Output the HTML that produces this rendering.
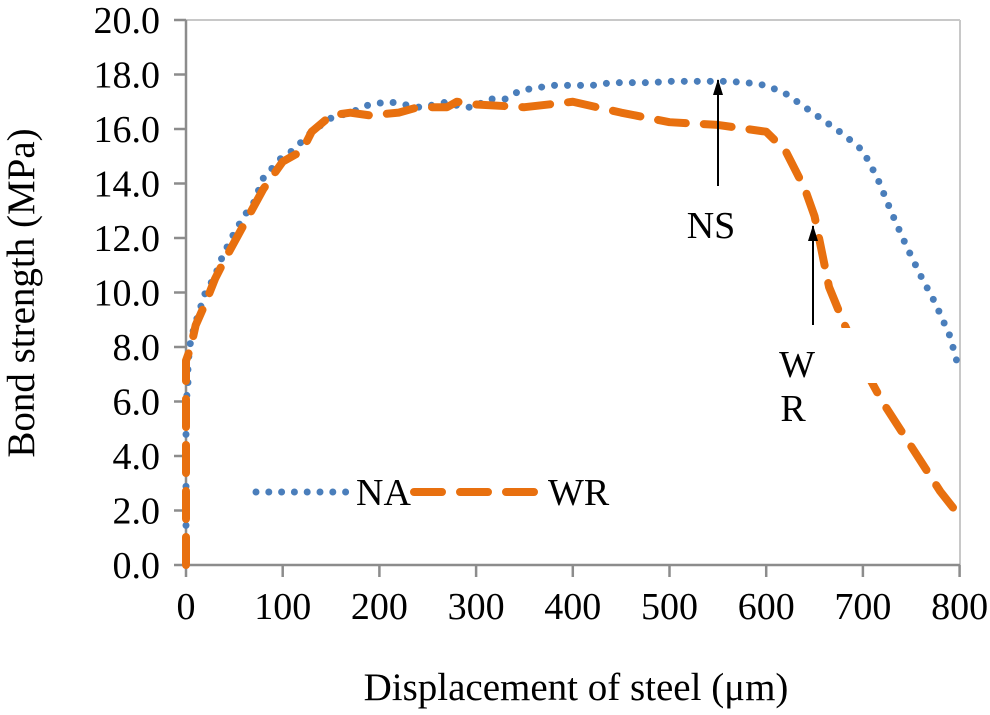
<!DOCTYPE html>
<html><head><meta charset="utf-8"><style>
body{margin:0;background:#fff}
svg text{font-family:"Liberation Serif",serif;fill:#000}
</style></head><body>
<svg width="990" height="710" id="c">
<defs><marker id="ah" markerWidth="16" markerHeight="12" refX="15" refY="5" orient="auto" markerUnits="userSpaceOnUse"><path d="M0,0 L16,5 L0,10 Z" fill="#000"/></marker></defs>
</svg>
<script>
const xTicks=[0,100,200,300,400,500,600,700,800];
const yTicks=[0,2,4,6,8,10,12,14,16,18,20];
const naX=[0,0,0,0,0,0,0,2,2,3,5,10,20,30,35,40,50,60,70,80,90,100,110,130,150,170,190,210,240,260,270,285,300,310,330,345,360,380,400,420,440,460,480,500,520,540,560,580,600,620,640,660,680,700,715,730,745,760,775,790,800];
const naY=[0.5,1.3,2,3,4,5,6,6.5,7.2,7.7,8.3,8.9,10,10.6,11.1,11.5,12.2,12.8,13.3,14.2,14.6,15,15.2,15.9,16.4,16.6,16.9,17,16.8,16.9,17,16.8,16.8,17.1,17.1,17.4,17.5,17.6,17.6,17.6,17.7,17.7,17.7,17.75,17.75,17.75,17.75,17.7,17.6,17.3,16.8,16.3,15.8,15.2,14.2,12.9,11.7,10.6,9.6,8.4,7.1];
const wrX=[0,0,0,0,0,5,10,20,30,40,60,80,100,120,130,150,170,190,220,240,270,280,300,350,400,450,500,550,600,620,640,650,665,680,700,720,740,760,780,800];
const wrY=[0,2,4,6,7.5,8,8.8,9.6,10.5,11.2,12.5,13.8,14.8,15.2,15.9,16.5,16.6,16.5,16.6,16.8,16.8,17,16.9,16.8,17,16.6,16.25,16.15,15.9,15.2,13.8,12.8,10.2,8.9,7.3,6.0,4.9,3.8,2.7,1.8];
const X=v=>186+v*0.967, Y=v=>565-v*27.25;
const s=document.getElementById('c'), NS='http://www.w3.org/2000/svg';
function mk(t,a,p){const e=document.createElementNS(NS,t);for(const k in a)e.setAttribute(k,a[k]);(p||s).appendChild(e);return e;}
let e=mk('line',{x1:186,y1:20,x2:960,y2:20,stroke:'#c8c8c8','stroke-width':2});


e=mk('line',{x1:960,y1:20,x2:960,y2:565,stroke:'#c8c8c8','stroke-width':2});


e=mk('line',{x1:186,y1:20,x2:186,y2:565,stroke:'#8c8c8c','stroke-width':2.5});


e=mk('line',{x1:186,y1:565,x2:960,y2:565,stroke:'#8c8c8c','stroke-width':2.5});


yTicks.forEach(v=>{
 let t=mk('line',{x1:174,y1:Y(v),x2:186,y2:Y(v),stroke:'#8c8c8c','stroke-width':2.5});
 
 
 let l=mk('text',{x:160,y:Y(v)+13,'text-anchor':'end','font-size':38});l.textContent=v.toFixed(1);
 
 
});
xTicks.forEach(v=>{
 let t=mk('line',{x1:X(v),y1:565,x2:X(v),y2:577,stroke:'#8c8c8c','stroke-width':2.5});
 
 
 let l=mk('text',{x:X(v),y:619,'text-anchor':'middle','font-size':38});l.textContent=v;
 
 
});
function pts(xs,ys){return xs.map((x,i)=>X(x)+','+Y(ys[i])).join(' ');}
e=mk('polyline',{points:pts(naX,naY),fill:'none',stroke:'#4a7ebb','stroke-width':7,'stroke-linecap':'round','stroke-dasharray':'0 13'});


e=mk('polyline',{points:pts(wrX,wrY),fill:'none',stroke:'#e8700f','stroke-width':8,'stroke-linecap':'round','stroke-linejoin':'round','stroke-dasharray':'28 18'});


e=mk('rect',{x:838,y:328,width:45,height:55,fill:'#fff'});


e=mk('line',{x1:718,y1:186,x2:718,y2:80,stroke:'#000','stroke-width':2,'marker-end':'url(#ah)'});


e=mk('text',{x:711,y:238,'text-anchor':'middle','font-size':38});e.textContent='NS';


e=mk('line',{x1:813,y1:325,x2:813,y2:226,stroke:'#000','stroke-width':2,'marker-end':'url(#ah)'});


e=mk('text',{x:797,y:377,'text-anchor':'middle','font-size':38});e.textContent='W';


e=mk('text',{x:793,y:421,'text-anchor':'middle','font-size':38});e.textContent='R';


e=mk('line',{x1:256,y1:492,x2:346,y2:492,stroke:'#4a7ebb','stroke-width':7,'stroke-linecap':'round','stroke-dasharray':'0 12.8'});


e=mk('text',{x:356,y:505,'font-size':38});e.textContent='NA';


e=mk('line',{x1:414,y1:492,x2:534,y2:492,stroke:'#e8700f','stroke-width':8,'stroke-linecap':'round','stroke-dasharray':'28 18'});


e=mk('text',{x:548,y:505,'font-size':38});e.textContent='WR';


e=mk('text',{x:576,y:700,'text-anchor':'middle','font-size':39});e.textContent='Displacement of steel (μm)';


e=mk('text',{x:0,y:0,'text-anchor':'middle','font-size':39,transform:'translate(34,293) rotate(-90)'});e.textContent='Bond strength (MPa)';


</script>
</body></html>
